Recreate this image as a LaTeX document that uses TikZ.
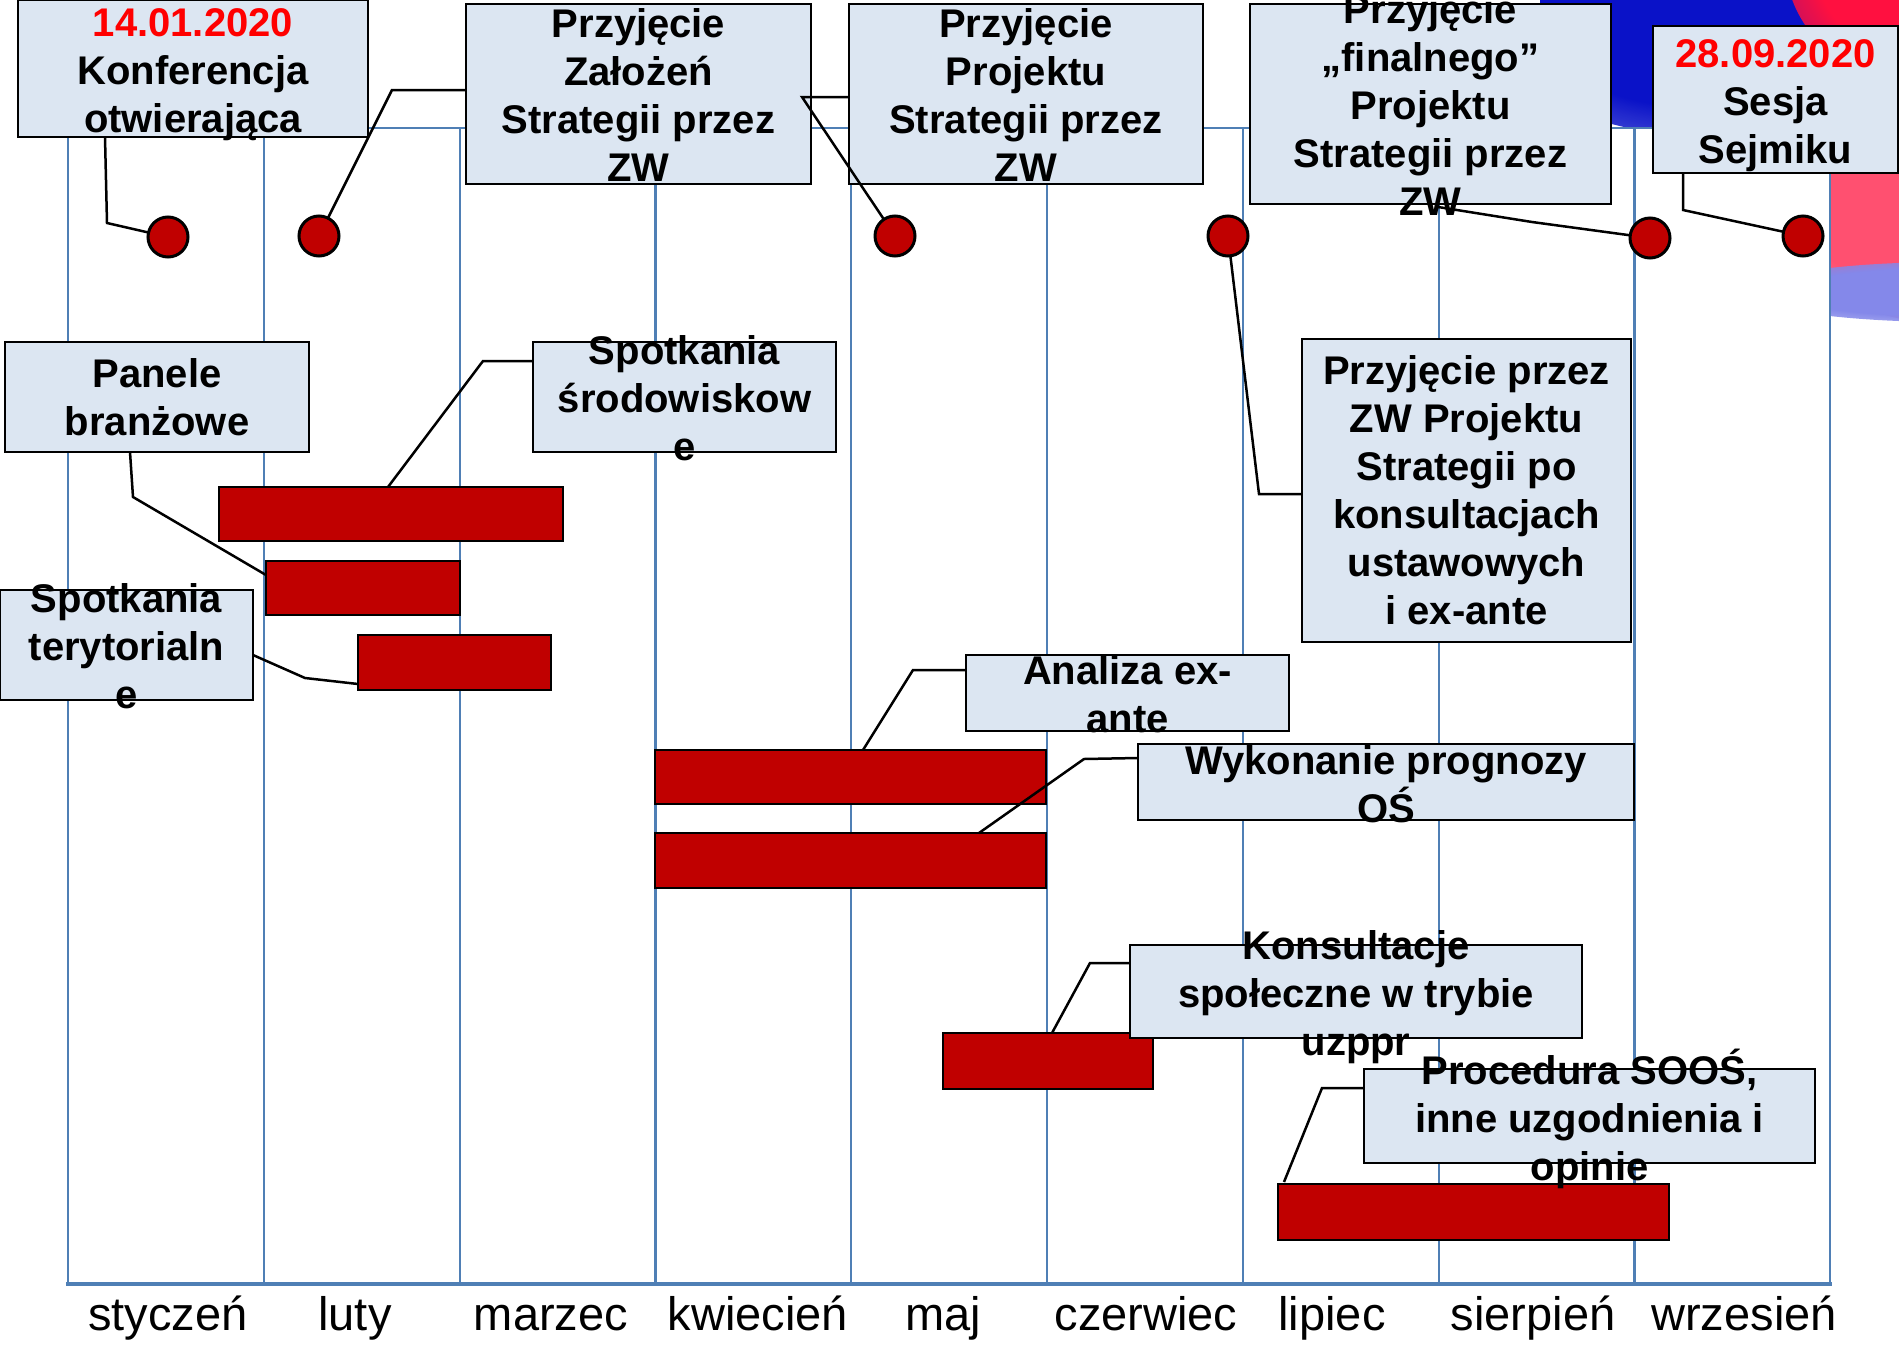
\documentclass[tikz,border=0pt]{standalone}
\usepackage{fontspec}
\setmainfont{Liberation Sans}
\usetikzlibrary{calc,fadings}
\definecolor{boxfill}{HTML}{DCE6F2}
\definecolor{barred}{HTML}{C00000}
\definecolor{gridblue}{HTML}{4F7FB5}
\definecolor{datered}{HTML}{FF0000}
\definecolor{flagblue}{HTML}{0A12C8}
\definecolor{flagred}{HTML}{FF1040}
\definecolor{flagpink}{HTML}{FF5070}
\definecolor{flaglav}{HTML}{8488EA}
\pgfdeclareradialshading{blobsh}{\pgfpointorigin}{color(0bp)=(pgftransparent!0); color(20bp)=(pgftransparent!0); color(50bp)=(pgftransparent!100)}
\pgfdeclarefading{blobfade}{\pgfuseshading{blobsh}}
\begin{document}
\begin{tikzpicture}[x=1pt,y=-1pt,
  boxst/.style={draw=black, line width=2.5pt, fill=boxfill, inner sep=0pt, outer sep=0pt},
  lbl/.style={font=\bfseries\fontsize{40}{48}\selectfont, align=center, inner sep=0pt, text=black},
  barst/.style={draw=black, line width=2.5pt, fill=barred, inner sep=0pt, outer sep=0pt},
  dot/.style={circle, draw=black, line width=3pt, fill=barred, minimum size=40pt, inner sep=0pt, outer sep=0pt},
  conn/.style={draw=black, line width=2.5pt},
  gridln/.style={draw=gridblue, line width=2.2pt},
  month/.style={font=\fontsize{47}{56}\selectfont, inner sep=0pt, anchor=base}]
\useasboundingbox (0,0) rectangle (1899,1347);
\fill[white] (0,0) rectangle (1899,1347);
% blurred background graphic
\begin{scope}
  \clip (1540,0) rectangle (1899,340);
  \fill[flagblue, path fading=blobfade] (1700,-10) ellipse [x radius=230pt, y radius=145pt];
  \fill[flagred, path fading=blobfade] (1935,-40) ellipse [x radius=150pt, y radius=130pt];
  \fill[flagpink, path fading=blobfade] (1965,205) ellipse [x radius=200pt, y radius=120pt];
  \fill[flaglav, path fading=blobfade] (1950,292) ellipse [x radius=200pt, y radius=30pt];
\end{scope}
\fill[white] (68,128) rectangle (1830,1284);
% grid
\foreach \i in {0,...,9} {\draw[gridln] (68+195.8*\i,128) -- (68+195.8*\i,1284);}
\draw[gridln] (68,128) -- (1830,128);
\draw[draw=gridblue, line width=4pt] (66,1284) -- (1832,1284);
% months
\node[month] (m1) at (168,1330) {styczeń};
\node[month] (m2) at (355,1330) {luty};
\node[month] (m3) at (551,1330) {marzec};
\node[month] (m4) at (758,1330) {kwiecień};
\node[month] (m5) at (943,1330) {maj};
\node[month] (m6) at (1146,1330) {czerwiec};
\node[month] (m7) at (1332,1330) {lipiec};
\node[month] (m8) at (1533,1330) {sierpień};
\node[month] (m9) at (1744,1330) {wrzesień};
% bars
\node[barst, minimum width=344pt, minimum height=54pt] (barA) at (391,514) {};
\node[barst, minimum width=194pt, minimum height=54pt] (barB) at (363,588) {};
\node[barst, minimum width=193pt, minimum height=55pt] (barC) at (454.5,662.5) {};
\node[barst, minimum width=391pt, minimum height=54pt] (barD) at (850.5,777) {};
\node[barst, minimum width=391pt, minimum height=55pt] (barE) at (850.5,860.5) {};
\node[barst, minimum width=210pt, minimum height=56pt] (barF) at (1048,1061) {};
\node[barst, minimum width=391pt, minimum height=56pt] (barG) at (1473.5,1212) {};
% boxes
\node[boxst, minimum width=350pt, minimum height=137pt] (konf) at (193,68.5) {};
\node[lbl] (konfT) at ($(konf.center)+(0,6)$) {\textcolor{datered}{14.01.2020}\\Konferencja\\otwierająca};
\node[boxst, minimum width=345pt, minimum height=180pt] (zal) at (638.5,94) {};
\node[lbl] (zalT) at ($(zal.center)+(0,1)$) {Przyjęcie\\Założeń\\Strategii przez\\ZW};
\node[boxst, minimum width=354pt, minimum height=180pt] (proj) at (1026,94) {};
\node[lbl] (projT) at ($(proj.center)+(0,1)$) {Przyjęcie\\Projektu\\Strategii przez\\ZW};
\node[boxst, minimum width=361pt, minimum height=200pt] (final) at (1430.5,104) {};
\node[lbl] (finalT) at ($(final.center)+(0,1)$) {Przyjęcie\\„finalnego”\\Projektu\\Strategii przez\\ZW};
\node[boxst, minimum width=245pt, minimum height=147pt] (sesja) at (1775.5,99.5) {};
\node[lbl] (sesjaT) at ($(sesja.center)+(0,6)$) {\textcolor{datered}{28.09.2020}\\Sesja\\Sejmiku};
\node[boxst, minimum width=329pt, minimum height=303pt] (po) at (1466.5,490.5) {};
\node[lbl] (poT) at (po.center) {Przyjęcie przez\\ZW Projektu\\Strategii po\\konsultacjach\\ustawowych\\i ex-ante};
\node[boxst, minimum width=304pt, minimum height=110pt] (panele) at (157,397) {};
\node[lbl] (paneleT) at (panele.center) {Panele\\branżowe};
\node[boxst, minimum width=303pt, minimum height=110pt] (srod) at (684.5,397) {};
\node[lbl] (srodT) at ($(srod.center)+(0,1)$) {Spotkania\\środowiskow\\e};
\node[boxst, minimum width=253pt, minimum height=110pt] (teryt) at (126.5,645) {};
\node[lbl] (terytT) at ($(teryt.center)+(0,1)$) {Spotkania\\terytorialn\\e};
\node[boxst, minimum width=323pt, minimum height=76pt] (analiza) at (1127.5,693) {};
\node[lbl] (analizaT) at ($(analiza.center)+(0,1)$) {Analiza ex-\\ante};
\node[boxst, minimum width=496pt, minimum height=76pt] (wykon) at (1386,782) {};
\node[lbl] (wykonT) at ($(wykon.center)+(0,2)$) {Wykonanie prognozy\\OŚ};
\node[boxst, minimum width=452pt, minimum height=93pt] (konsult) at (1356,991.5) {};
\node[lbl] (konsultT) at ($(konsult.center)+(0,6)$) {Konsultacje\\społeczne w trybie\\uzppr};
\node[boxst, minimum width=451pt, minimum height=94pt] (proc) at (1589.5,1116) {};
\node[lbl] (procT) at ($(proc.center)+(0,3)$) {Procedura SOOŚ,\\inne uzgodnienia i\\opinie};
% milestone dots
\node[dot] (c1) at (168,237) {};
\node[dot] (c2) at (319,236) {};
\node[dot] (c3) at (895,236) {};
\node[dot] (c4) at (1228,236) {};
\node[dot] (c5) at (1650,238) {};
\node[dot] (c6) at (1803,236) {};
% connectors
\draw[conn] ($(konf.south west)+(87,0)$) -- (107,223) -- (c1);
\draw[conn] ($(zal.north west)+(0,86)$) -- (392,90) -- (c2);
\draw[conn] ($(proj.north west)+(0,93)$) -- (802,97) -- (c3);
\draw[conn] ($(final.south)+(7.5,3)$) -- (1532,222) -- (c5);
\draw[conn] ($(sesja.south west)+(30,0)$) -- (1683,210) -- (c6);
\draw[conn] (c4) -- (1259,494) -- ($(po.north west)+(0,155)$);
\draw[conn] ($(panele.south west)+(125,0)$) -- (133,497) -- ($(barB.north west)+(0,14)$);
\draw[conn] ($(srod.north west)+(0,19)$) -- (483,361) -- ($(barA.north west)+(169,0)$);
\draw[conn] ($(teryt.north east)+(0,65)$) -- (305,678) -- ($(barC.north west)+(0,49)$);
\draw[conn] ($(analiza.north west)+(0,15)$) -- (913,670) -- ($(barD.north west)+(208,0)$);
\draw[conn] ($(wykon.north west)+(0,14)$) -- (1084,759) -- ($(barE.north west)+(324,0)$);
\draw[conn] ($(konsult.north west)+(0,18)$) -- (1090,963) -- ($(barF.north west)+(109,0)$);
\draw[conn] ($(proc.north west)+(0,19)$) -- (1322,1088) -- ($(barG.north west)+(6,-2)$);
\end{tikzpicture}
\end{document}
